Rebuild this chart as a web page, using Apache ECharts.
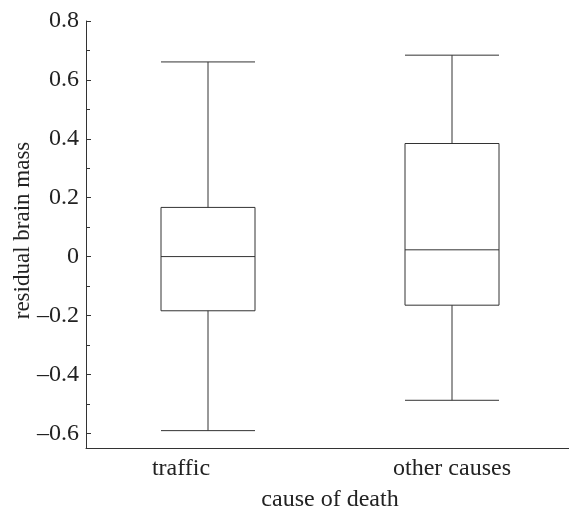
<!DOCTYPE html>
<html>
<head>
<meta charset="utf-8">
<script src="https://cdn.jsdelivr.net/npm/echarts@6/dist/echarts.min.js"></script>
<style>
html,body{margin:0;padding:0;background:#fff;}
#chart{width:569px;height:508px;}
</style>
</head>
<body>
<div id="chart"></div>
<script>
var categories = ['traffic', 'other causes'];
// [lower whisker, Q1, median, Q3, upper whisker]
var trafficBox = [-0.591, -0.184, 0.0, 0.167, 0.661];
var otherBox = [-0.488, -0.165, 0.023, 0.384, 0.684];
var yTickValues = [-0.6, -0.4, -0.2, 0, 0.2, 0.4, 0.6, 0.8];
var yMinorTickValues = [-0.5, -0.3, -0.1, 0.1, 0.3, 0.5, 0.7];
var yMin = -0.65, yMax = 0.8;

var FONT = 'Liberation Serif';
var TXT = '#222';
var LINE = '#333';

function fmt(v) {
  var r = Math.round(v * 10) / 10;
  if (r === 0) return '0';
  var s = Math.abs(r).toFixed(1);
  return (r < 0 ? '\u2013' : '') + s;
}

var chart = echarts.init(document.getElementById('chart'), null, {renderer: 'canvas'});
chart.setOption({
  animation: false,
  backgroundColor: '#fff',
  grid: {left: 86, top: 21, width: 488, bottom: 60, containLabel: false, outerBoundsMode: 'none'},
  xAxis: {
    type: 'category',
    data: categories,
    name: 'cause of death',
    nameLocation: 'middle',
    nameGap: 40,
    nameMoveOverlap: false,
    nameTextStyle: {fontFamily: FONT, fontSize: 24, color: TXT},
    axisLine: {onZero: false, lineStyle: {color: LINE, width: 1}},
    axisTick: {show: false},
    axisLabel: {
      fontFamily: FONT, fontSize: 24, color: TXT, margin: 9,
      formatter: function (v, i) { return i === 0 ? '{a|' + v + '}' : '{b|' + v + '}'; },
      rich: {
        a: {fontFamily: FONT, fontSize: 24, color: TXT, padding: [0, 54, 0, 0]},
        b: {fontFamily: FONT, fontSize: 24, color: TXT}
      }
    },
    splitLine: {show: false}
  },
  yAxis: [{
    type: 'value',
    min: yMin,
    max: yMax,
    name: 'residual brain mass',
    nameLocation: 'middle',
    nameGap: 52,
    nameMoveOverlap: false,
    nameTextStyle: {fontFamily: FONT, fontSize: 23, color: TXT, padding: [0, 0, 0, 8]},
    axisLine: {show: true, onZero: false, lineStyle: {color: LINE, width: 1}},
    axisTick: {show: true, inside: true, length: 5, customValues: yTickValues, lineStyle: {color: LINE}},
    axisLabel: {fontFamily: FONT, fontSize: 24, color: TXT, margin: 7, customValues: yTickValues, formatter: fmt},
    splitLine: {show: false}
  }, {
    type: 'value',
    min: yMin,
    max: yMax,
    position: 'left',
    axisLine: {show: false, onZero: false},
    axisTick: {show: true, inside: true, length: 4, customValues: yMinorTickValues, lineStyle: {color: LINE}},
    axisLabel: {show: false},
    splitLine: {show: false}
  }],
  series: [{
    type: 'boxplot',
    data: [trafficBox, otherBox],
    boxWidth: [94, 94],
    itemStyle: {color: '#fff', borderColor: LINE, borderWidth: 1},
    silent: true
  }]
});
</script>
</body>
</html>
